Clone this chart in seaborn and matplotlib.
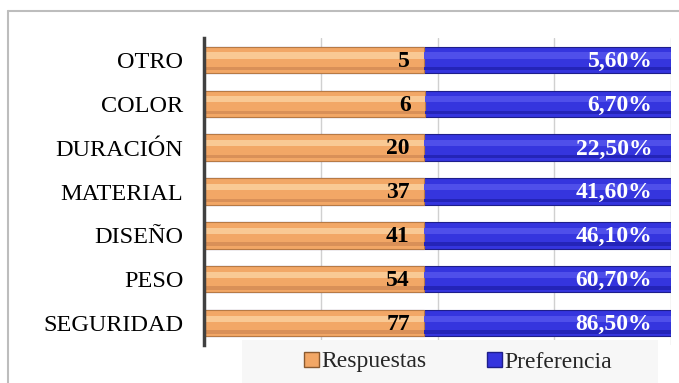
import matplotlib
matplotlib.use("Agg")
import matplotlib.pyplot as plt
import seaborn as sns
import pandas as pd
from matplotlib.patches import Rectangle
from matplotlib.lines import Line2D

categorias = ["OTRO", "COLOR", "DURACIÓN", "MATERIAL", "DISEÑO", "PESO", "SEGURIDAD"]
respuestas = [5, 6, 20, 37, 41, 54, 77]
preferencia = [5.6, 6.7, 22.5, 41.6, 46.1, 60.7, 86.5]
series = ["Respuestas", "Preferencia"]

sns.set_theme(style="white")
plt.rcParams["font.family"] = ["Liberation Serif", "DejaVu Serif"]

ORANGE = "#F2A766"
BLUE = "#3535DE"

df = pd.DataFrame({"cat": categorias, "resp": respuestas, "pref": preferencia})
df["total"] = df["resp"] + df["pref"]
df["resp_share"] = df["resp"] / df["total"]
df["full"] = 1.0

fig = plt.figure(figsize=(6.79, 3.83), dpi=100)
ax = fig.add_axes([204 / 679, 38 / 383, 467 / 679, 307 / 383])

sns.barplot(data=df, y="cat", x="full", orient="h", color=BLUE, width=0.6,
            edgecolor="#1E1E8A", linewidth=0.8, ax=ax, saturation=1)
sns.barplot(data=df, y="cat", x="resp_share", orient="h", color=ORANGE, width=0.6,
            edgecolor="#B77A45", linewidth=0.8, ax=ax, saturation=1)

# bevel shading stripes
for i, r in df.iterrows():
    s = r["resp_share"]
    ax.barh(i - 0.1, s, height=0.14, left=0, color="#F9C994", linewidth=0, zorder=3)
    ax.barh(i + 0.2, s, height=0.08, left=0, color="#D99058", linewidth=0, zorder=3)
    ax.barh(i - 0.1, 1 - s, height=0.14, left=s, color="#4F4FEA", linewidth=0, zorder=3)
    ax.barh(i + 0.2, 1 - s, height=0.08, left=s, color="#2424B8", linewidth=0, zorder=3)
    ax.text(s - 0.03, i + 0.03, f"{r['resp']}", ha="right", va="center",
            fontsize=17, fontweight="bold", color="black", zorder=5)
    ax.text(0.96, i + 0.03, f"{r['pref']:.2f}%".replace(".", ","), ha="right", va="center",
            fontsize=17, fontweight="bold", color="white", zorder=5)

ax.set_xlim(0, 1.0)
ax.set_ylim(6.5, -0.5)
ax.set_xticks([0, 0.25, 0.5, 0.75, 1.0])
ax.set_xticklabels([])
ax.tick_params(axis="x", length=0)
ax.tick_params(axis="y", length=0, labelsize=17.5, pad=15, labelcolor="black")
ax.xaxis.grid(True, color="#D0D0D0", linewidth=1)
ax.set_axisbelow(True)
ax.set_xlabel("")
ax.set_ylabel("")
for sp in ["top", "right", "bottom"]:
    ax.spines[sp].set_visible(False)
ax.spines["left"].set_color("#404040")
ax.spines["left"].set_linewidth(2.5)
ax.spines["left"].set_zorder(6)

# outer frame
fig.add_artist(Line2D([8 / 679, 8 / 679], [0, 1 - 11 / 383], color="#BDBDBD", linewidth=1.5))
fig.add_artist(Line2D([8 / 679, 1], [1 - 11 / 383, 1 - 11 / 383], color="#BDBDBD", linewidth=1.5))

# legend box
fig.add_artist(Rectangle((242 / 679, 0), 416 / 679, 43 / 383, transform=fig.transFigure,
                         facecolor="#F7F7F7", edgecolor="none", zorder=10))
handles = [Rectangle((0, 0), 1, 1, facecolor=ORANGE, edgecolor="#8A5A30"),
           Rectangle((0, 0), 1, 1, facecolor=BLUE, edgecolor="#1E1E8A")]
leg = fig.legend(handles, series, loc="center", bbox_to_anchor=(458 / 679, 1 - 362 / 383),
                 ncol=2, frameon=False, fontsize=17, handlelength=0.6, handleheight=0.6,
                 handletextpad=0.1, columnspacing=2.6)
leg.set_zorder(11)

fig.savefig("out.png", dpi=100)
